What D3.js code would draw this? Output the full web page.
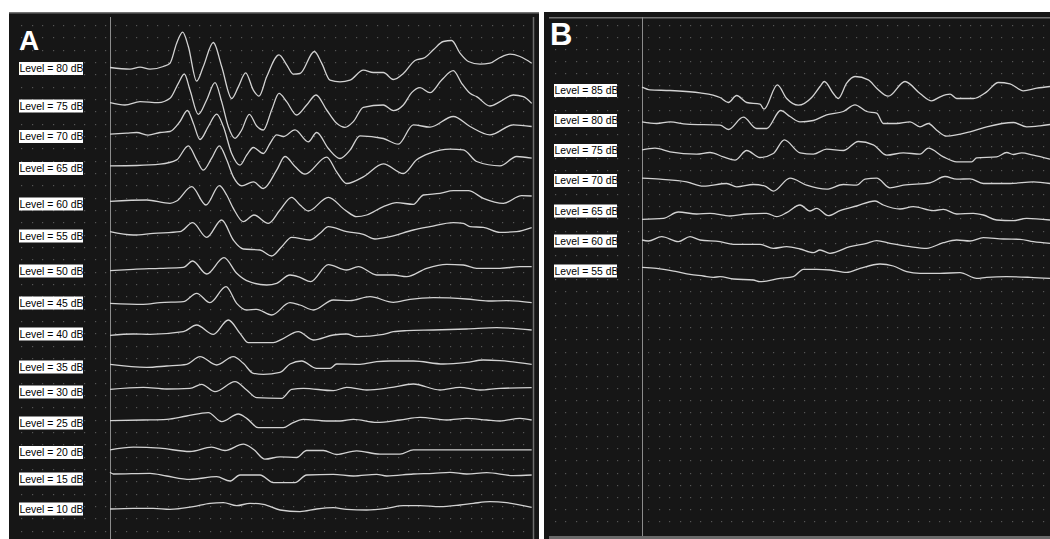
<!DOCTYPE html>
<html><head><meta charset="utf-8">
<script src="https://cdn.jsdelivr.net/npm/d3@7"></script>
<style>body{margin:0;background:#fff}svg{display:block}</style>
</head><body>
<svg id="c" width="1050" height="539"></svg>
<script>
// ---------- DATA (time in ms, amplitude in µV) ----------
const levelsA = [80,75,70,65,60,55,50,45,40,35,30,25,20,15,10];
const levelsB = [85,80,75,70,65,60,55];
// display stacking offsets (µV from top of panel)
const offsetsA = [2.055,3.18,4.095,5.055,6.12,7.08,8.13,9.09,10.02,11.01,11.76,12.69,13.575,14.37,15.27];
const offsetsB = [2.715,3.615,4.515,5.415,6.33,7.23,8.13];

const A80 = [[0,0.03],[0.6,-0.02],[0.9,0.04],[1.2,-0.02],[1.6,0.06],[1.8,0.16],[2.0,0.76],[2.18,1.09],[2.35,0.66],[2.6,-0.38],[2.8,0.06],[3.1,0.78],[3.35,0.06],[3.65,-0.9],[3.85,-0.55],[4.07,-0.13],[4.3,-0.65],[4.47,-0.83],[4.7,-0.25],[5.07,0.41],[5.3,0.11],[5.5,-0.17],[5.7,-0.15],[6.13,0.51],[6.35,0.16],[6.6,-0.35],[6.9,-0.4],[7.2,-0.35],[7.6,-0.05],[7.9,-0.12],[8.2,-0.12],[8.5,-0.33],[8.8,-0.15],[9.15,0.24],[9.45,0.33],[9.7,0.56],[10.0,0.81],[10.25,0.84],[10.5,0.46],[10.75,0.21],[11.1,0.13],[11.4,0.16],[11.7,0.33],[12.0,0.43],[12.3,0.36],[12.65,0.16]];
const A75 = [[0,0.1],[0.45,0.03],[0.9,0.13],[1.45,0.1],[1.8,0.23],[2.05,0.68],[2.23,0.96],[2.4,0.48],[2.65,-0.25],[2.9,0.18],[3.15,0.7],[3.35,0.13],[3.55,-0.62],[3.75,-0.97],[3.95,-0.72],[4.18,-0.25],[4.4,-0.6],[4.6,-0.72],[4.85,-0.12],[5.07,0.38],[5.3,0.13],[5.6,-0.27],[5.9,0.03],[6.18,0.33],[6.5,-0.12],[6.8,-0.52],[7.05,-0.64],[7.3,-0.47],[7.6,-0.04],[8.2,0.03],[8.5,-0.14],[8.8,0.03],[9.05,0.4],[9.3,0.55],[9.6,0.4],[9.95,0.78],[10.3,1.06],[10.55,0.68],[10.8,0.38],[11.0,0.28],[11.4,0.0],[11.7,0.13],[12.1,0.33],[12.4,0.28],[12.65,0.08]];
const A70 = [[0,0.07],[0.5,0.1],[0.8,0.12],[1.15,0.04],[1.5,0.12],[1.8,0.15],[2.1,0.45],[2.32,0.78],[2.5,0.4],[2.7,-0.09],[2.95,0.3],[3.2,0.67],[3.4,0.3],[3.65,-0.51],[3.9,-0.86],[4.1,-0.56],[4.3,-0.33],[4.6,-0.51],[4.8,-0.21],[5.0,0.05],[5.2,0.0],[5.55,0.2],[5.95,-0.16],[6.2,0.12],[6.55,-0.36],[6.9,-0.66],[7.2,-0.41],[7.5,0.02],[8.2,-0.06],[8.65,-0.23],[9.1,0.35],[9.6,0.28],[10.3,0.6],[10.8,0.3],[11.4,0.05],[12.1,0.35],[12.65,0.3]];
const A65 = [[0,0.08],[0.8,0.09],[1.5,0.13],[2.0,0.26],[2.35,0.68],[2.6,0.26],[2.8,-0.05],[3.05,0.31],[3.28,0.68],[3.5,0.26],[3.7,-0.25],[3.95,-0.52],[4.3,-0.4],[4.6,-0.6],[5.0,-0.05],[5.25,0.36],[5.55,0.06],[5.85,-0.17],[6.5,0.34],[6.8,-0.1],[7.1,-0.45],[7.6,-0.25],[8.2,0.14],[8.8,-0.15],[9.2,0.26],[9.6,0.46],[10.2,0.58],[10.6,0.56],[11.0,0.21],[11.7,0.08],[12.2,0.36],[12.65,0.31]];
const A60 = [[0,0.08],[1.1,0.12],[1.8,0.02],[2.0,0.09],[2.45,0.52],[2.88,-0.03],[3.28,0.55],[3.5,0.27],[3.7,-0.13],[4.0,-0.53],[4.32,-0.33],[4.75,-0.58],[5.1,-0.18],[5.45,0.2],[5.7,-0.03],[5.95,-0.21],[6.55,0.2],[7.05,-0.18],[7.4,-0.38],[7.7,-0.33],[8.2,-0.08],[8.6,0.04],[9.1,-0.01],[9.4,0.27],[9.9,0.32],[10.3,0.4],[10.75,0.4],[11.2,0.17],[11.8,0.02],[12.35,0.25],[12.65,0.24]];
const A55 = [[0,0.13],[0.7,0.03],[1.3,0.08],[2.1,0.13],[2.48,0.4],[2.9,-0.04],[3.35,0.48],[3.7,-0.12],[4.0,-0.39],[4.5,-0.42],[4.85,-0.6],[5.15,-0.32],[5.45,-0.04],[6.0,-0.12],[6.3,0.08],[6.55,0.28],[7.1,0.13],[7.6,0.05],[7.95,-0.09],[8.4,-0.02],[9.1,0.18],[9.6,0.28],[10.3,0.4],[10.6,0.38],[10.8,0.28],[11.2,0.26],[11.7,0.11],[12.2,0.13],[12.65,0.25]];
const A50 = [[0,0.01],[0.7,0.05],[1.5,0.08],[2.2,0.11],[2.48,0.3],[2.9,-0.09],[3.42,0.4],[3.8,-0.07],[4.1,-0.29],[4.7,-0.42],[5.0,-0.37],[5.4,-0.12],[5.7,-0.19],[6.02,-0.32],[6.55,0.19],[7.1,0.03],[7.45,0.13],[8.0,-0.12],[8.5,-0.12],[8.9,-0.17],[9.5,0.08],[10.1,0.2],[10.6,0.18],[11.0,0.08],[11.7,0.08],[12.3,0.13],[12.65,0.13]];
const A45 = [[0,-0.01],[1.0,-0.04],[1.5,0.01],[2.2,0.04],[2.6,0.29],[3.0,0.01],[3.48,0.49],[3.8,-0.01],[4.1,-0.21],[4.4,-0.19],[4.85,-0.36],[5.4,0.01],[5.7,-0.06],[6.1,-0.21],[6.7,0.09],[7.2,0.07],[7.8,0.19],[8.5,0.02],[9.0,0.11],[9.7,0.16],[10.7,0.12],[11.35,0.06],[11.9,0.07],[12.65,0.01]];
const A40 = [[0,-0.04],[0.7,0.0],[1.2,-0.01],[2.2,0.07],[2.6,0.27],[3.1,-0.01],[3.55,0.42],[3.9,0.02],[4.15,-0.26],[4.9,-0.26],[5.15,-0.16],[5.65,0.07],[6.1,-0.18],[6.7,-0.03],[7.1,0.0],[7.4,-0.08],[8.2,-0.01],[8.5,0.07],[8.9,0.1],[9.7,0.12],[10.7,0.15],[11.6,0.19],[12.65,0.12]];
const A35 = [[0,0.08],[1.1,-0.01],[1.7,0.03],[2.3,0.08],[2.7,0.31],[3.2,0.06],[3.7,0.31],[4.0,0.11],[4.3,-0.19],[4.6,-0.22],[5.1,-0.16],[5.4,0.09],[5.75,0.18],[6.2,-0.04],[6.6,-0.04],[6.8,0.09],[7.5,0.08],[8.0,0.16],[8.4,0.18],[9.1,0.18],[10.0,0.09],[10.7,0.14],[11.2,0.21],[11.7,0.19],[12.65,0.08]];
const A30 = [[0,0.08],[1.0,0.14],[1.7,0.09],[2.4,0.11],[2.75,0.23],[3.15,0.01],[3.75,0.31],[4.1,0.06],[4.4,-0.17],[5.15,-0.19],[5.45,0.08],[5.8,0.11],[6.7,0.04],[7.1,0.14],[7.7,0.06],[8.4,0.13],[9.1,0.24],[9.9,0.06],[10.5,0.14],[11.1,0.06],[11.7,0.11],[12.65,0.13]];
const A25 = [[0,0.07],[1.0,0.09],[1.7,0.11],[2.3,0.21],[2.95,0.31],[3.35,0.04],[3.85,0.27],[4.1,0.14],[4.45,-0.14],[5.2,-0.14],[5.45,-0.01],[5.8,0.11],[6.5,0.06],[6.9,0.06],[7.3,0.11],[8.0,0.02],[8.7,0.09],[9.3,0.17],[10.1,0.09],[10.7,0.14],[11.3,0.09],[11.7,0.06],[12.3,0.14],[12.65,0.09]];
const A20 = [[0,0.08],[0.7,0.16],[1.5,0.13],[2.4,0.03],[3.05,0.16],[3.45,0.06],[4.0,0.25],[4.3,0.1],[4.65,-0.2],[5.1,-0.13],[5.6,-0.15],[5.9,0.06],[6.4,0.06],[6.8,-0.06],[7.4,0.05],[8.1,-0.05],[8.7,-0.05],[9.1,0.08],[10.1,0.08],[10.7,0.08],[11.7,0.08],[12.65,0.08]];
const A15 = [[0,0.2],[0.1,0.15],[1.2,0.17],[1.7,0.09],[2.4,-0.01],[3.2,0.07],[3.6,-0.06],[3.9,0.12],[4.5,0.12],[4.9,-0.11],[5.55,-0.11],[5.9,0.12],[6.7,0.14],[7.3,0.09],[8.0,0.14],[8.3,0.09],[9.1,0.15],[9.7,0.17],[10.2,0.2],[10.7,0.15],[11.3,0.19],[12.1,0.1],[12.65,0.12]];
const A10 = [[0,0.0],[0.7,0.02],[1.3,0.02],[1.8,-0.01],[2.5,0.07],[3.0,0.17],[3.4,0.19],[3.8,0.1],[4.2,0.17],[4.6,0.14],[5.1,-0.03],[5.7,-0.08],[6.2,0.0],[6.7,0.04],[7.1,-0.01],[7.7,-0.03],[8.3,0.02],[8.8,0.1],[9.3,0.1],[9.9,0.07],[10.5,0.12],[10.9,0.17],[11.4,0.22],[11.9,0.19],[12.65,0.05]];

const B85 = [[0,0.1],[0.24,0.02],[0.84,0.0],[1.74,-0.07],[2.34,-0.21],[2.59,-0.36],[2.84,-0.15],[3.14,-0.36],[3.54,-0.41],[3.66,-0.56],[4.06,0.17],[4.34,-0.24],[4.69,-0.44],[5.09,-0.21],[5.34,0.12],[5.47,0.27],[5.74,-0.09],[5.89,-0.24],[6.14,0.22],[6.39,0.42],[6.79,0.32],[7.04,0.07],[7.39,-0.17],[7.89,0.27],[8.34,-0.09],[8.69,-0.31],[8.94,-0.19],[9.24,-0.11],[9.44,-0.24],[9.94,-0.24],[10.34,-0.04],[10.69,0.24],[11.04,0.2],[11.44,-0.01],[11.84,0.07],[12.24,0.12]];
const B80 = [[0,-0.04],[0.44,-0.09],[0.84,-0.04],[1.34,-0.11],[2.34,-0.14],[2.59,-0.27],[3.04,0.1],[3.44,-0.24],[3.74,-0.24],[4.16,0.3],[4.44,0.12],[4.74,-0.04],[5.14,0.0],[5.54,0.17],[6.04,0.27],[6.39,0.47],[6.74,0.27],[7.04,0.22],[7.24,-0.09],[7.64,-0.09],[8.04,-0.04],[8.34,-0.19],[8.59,-0.09],[8.84,-0.29],[9.14,-0.47],[9.84,-0.34],[10.34,-0.19],[11.14,-0.06],[11.54,-0.19],[11.94,-0.16],[12.24,-0.12]];
const B75 = [[0,0.02],[0.39,0.07],[0.84,-0.04],[1.64,-0.11],[2.04,-0.06],[2.44,-0.19],[2.79,-0.29],[3.14,0.0],[3.54,-0.21],[3.94,-0.09],[4.27,0.32],[4.74,-0.07],[5.14,-0.11],[5.54,0.04],[6.04,0.0],[6.49,0.27],[6.94,0.17],[7.34,-0.14],[7.84,-0.07],[8.34,-0.11],[8.59,0.07],[9.04,-0.19],[9.44,-0.34],[9.89,-0.34],[10.04,-0.22],[10.64,-0.19],[10.94,-0.06],[11.14,-0.12],[11.39,-0.07],[11.74,-0.14],[12.24,-0.26]];
const B70 = [[0,0.07],[0.54,0.04],[1.34,-0.04],[1.84,-0.17],[2.54,-0.09],[2.84,-0.19],[3.34,-0.12],[3.69,-0.17],[3.94,-0.32],[4.44,0.07],[4.94,-0.14],[5.54,-0.26],[6.04,-0.12],[6.44,-0.14],[6.69,0.04],[7.04,0.07],[7.44,-0.22],[7.84,-0.14],[8.64,-0.07],[9.09,0.12],[9.44,0.04],[9.84,0.05],[10.24,-0.09],[11.04,-0.09],[11.74,-0.04],[12.24,-0.09]];
const B65 = [[0,-0.25],[0.64,-0.22],[1.09,-0.03],[1.64,-0.09],[2.04,-0.07],[2.64,-0.15],[3.14,-0.09],[3.74,-0.07],[4.04,-0.17],[4.34,-0.05],[4.74,0.18],[5.04,0.0],[5.24,0.08],[5.59,-0.14],[5.94,0.01],[6.44,0.15],[6.99,0.3],[7.24,0.18],[7.74,0.06],[8.14,0.13],[8.74,0.01],[9.04,0.05],[9.44,-0.09],[9.94,-0.07],[10.24,-0.12],[10.64,-0.27],[11.14,-0.29],[11.54,-0.22],[12.24,-0.27]];
const B60 = [[0,0.03],[0.19,0.0],[0.59,0.13],[1.09,-0.02],[1.44,0.13],[1.74,0.03],[2.34,-0.02],[2.74,-0.1],[3.54,-0.1],[3.94,-0.22],[4.34,-0.17],[4.74,-0.24],[5.14,-0.35],[5.34,-0.27],[5.64,-0.37],[6.24,-0.17],[6.74,-0.07],[7.04,0.01],[7.44,-0.07],[8.04,-0.17],[8.54,-0.22],[9.04,-0.05],[9.44,0.03],[9.84,0.0],[10.24,0.1],[10.84,0.06],[11.34,0.05],[11.74,-0.02],[12.24,-0.07]];
const B55 = [[0,0.11],[0.44,0.08],[1.04,-0.02],[1.44,-0.1],[1.84,-0.15],[2.14,-0.19],[2.34,-0.17],[2.74,-0.24],[3.34,-0.27],[3.54,-0.32],[4.14,-0.22],[4.54,-0.17],[4.84,0.05],[5.24,0.05],[5.64,0.03],[6.14,-0.04],[6.54,0.08],[7.14,0.21],[7.54,0.15],[7.94,-0.02],[8.34,-0.07],[8.94,-0.07],[9.54,-0.05],[10.04,-0.22],[10.34,-0.19],[10.94,-0.17],[11.64,-0.19],[12.24,-0.22]];

const tracesA = [A80,A75,A70,A65,A60,A55,A50,A45,A40,A35,A30,A25,A20,A15,A10];
const tracesB = [B85,B80,B75,B70,B65,B60,B55];
const windowMs = 12.66;

// ---------- DRAWING ----------
const svg = d3.select('#c');
const W = 1050, H = 539;
const yScale = d3.scaleLinear().domain([0, 16.17]).range([0, H]);

const panels = [
  {letter:'A', x0:9, x1:539, sep:110, xr:[110,532], levels:levelsA, offsets:offsetsA, traces:tracesA,
   labelX:19.5, labelW:64, dotX0:21.4, dotDX:10.45, dotX1:526, dotY0:25, dotDY:12.33, dotY1:536,
   letterX:19, letterY:50, letterSize:28, topLine:12.8, topX0:9},
  {letter:'B', x0:544, x1:1050, sep:642, xr:[642,1064], levels:levelsB, offsets:offsetsB, traces:tracesB,
   labelX:554.5, labelW:63, dotX0:555, dotDX:10.375, dotX1:1050, dotY0:24.8, dotDY:12.1, dotY1:533,
   letterX:550, letterY:45, letterSize:31, topLine:17.8, topX0:549}
];

panels.forEach(p => {
  const g = svg.append('g');
  g.append('rect').attr('x', p.x0).attr('y', 12).attr('width', p.x1 - p.x0).attr('height', H - 12).attr('fill', '#161616');
  g.append('line').attr('x1', p.topX0).attr('x2', p.x1).attr('y1', p.topLine).attr('y2', p.topLine)
    .attr('stroke', '#737373').attr('stroke-width', 1.5);
  const cols = d3.range(p.dotX0, p.dotX1, p.dotDX);
  const rows = d3.range(p.dotY0, p.dotY1, p.dotDY);
  const dots = [];
  rows.forEach(y => cols.forEach(x => dots.push([x, y])));
  g.append('g').selectAll('rect').data(dots).join('rect')
    .attr('x', d => Math.round(d[0])).attr('y', d => Math.round(d[1]))
    .attr('width', 1.2).attr('height', 1.2).attr('fill', '#555555');
  g.append('line').attr('x1', p.sep + 0.5).attr('x2', p.sep + 0.5).attr('y1', 17).attr('y2', H)
    .attr('stroke', '#8c8c8c').attr('stroke-width', 1);

  const x = d3.scaleLinear().domain([0, windowMs]).range(p.xr);
  p.traces.forEach((tr, i) => {
    const off = p.offsets[i];
    const line = d3.line().x(d => x(d[0])).y(d => yScale(off - d[1])).curve(d3.curveMonotoneX);
    g.append('path').attr('d', line(tr)).attr('fill', 'none')
      .attr('stroke', '#d2d2d2').attr('stroke-width', 1.3).attr('stroke-linejoin', 'round');
  });
  p.levels.forEach((lv, i) => {
    const cy = yScale(p.offsets[i]);
    g.append('rect').attr('x', p.labelX - 0.5).attr('y', cy - 6.5).attr('width', p.labelW).attr('height', 13).attr('fill', '#ffffff');
    g.append('text').attr('x', p.labelX).attr('y', cy + 3.8)
      .attr('font-family', 'Liberation Sans, Arial, sans-serif').attr('font-size', 10.4).attr('fill', '#000')
      .text('Level = ' + lv + ' dB');
  });
  g.append('text').attr('x', p.letterX).attr('y', p.letterY)
    .attr('font-family', 'Liberation Sans, Arial, sans-serif').attr('font-weight', 'bold')
    .attr('font-size', p.letterSize).attr('fill', '#fff')
    .text(p.letter);
});
svg.append('line').attr('x1', 533.5).attr('x2', 533.5).attr('y1', 17).attr('y2', H).attr('stroke', '#6e6e6e').attr('stroke-width', 1.5);
svg.append('rect').attr('x', 549).attr('y', 536).attr('width', W - 549).attr('height', 3).attr('fill', '#6a6a6a');
</script>
</body></html>
